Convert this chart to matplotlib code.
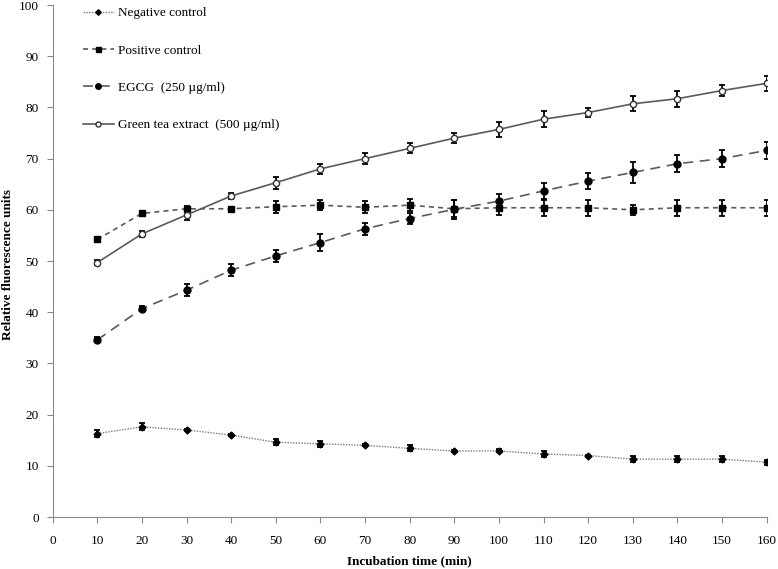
import numpy as np
import matplotlib
matplotlib.use("Agg")
import matplotlib.pyplot as plt
from matplotlib.lines import Line2D

plt.rcParams['font.family'] = ['Liberation Serif', 'DejaVu Serif']

time = [10, 20, 30, 40, 50, 60, 70, 80, 90, 100, 110, 120, 130, 140, 150, 160]

neg = [16.3, 17.6, 17.0, 16.0, 14.6, 14.3, 14.0, 13.4, 12.9, 12.9, 12.3, 12.0, 11.3, 11.3, 11.3, 10.7]
neg_err = [0.6, 0.7, 0.2, 0.2, 0.6, 0.6, 0.2, 0.6, 0.2, 0.3, 0.6, 0.2, 0.6, 0.6, 0.6, 0.5]

pos = [54.2, 59.3, 60.2, 60.2, 60.6, 60.9, 60.5, 60.9, 60.2, 60.4, 60.4, 60.4, 60.0, 60.4, 60.4, 60.4]
pos_err = [0.5, 0.5, 0.5, 0.3, 1.2, 1.0, 1.2, 1.2, 1.7, 1.5, 1.6, 1.6, 1.0, 1.6, 1.6, 1.6]

egcg = [34.6, 40.7, 44.3, 48.2, 51.0, 53.6, 56.3, 58.3, 60.1, 61.7, 63.7, 65.6, 67.3, 69.0, 70.0, 71.6]
egcg_err = [0.5, 0.5, 1.2, 1.2, 1.1, 1.6, 1.2, 1.1, 1.8, 1.4, 1.6, 1.6, 2.1, 1.7, 1.7, 1.6]

gte = [49.7, 55.3, 59.0, 62.7, 65.3, 68.0, 70.0, 72.0, 74.0, 75.7, 77.7, 79.0, 80.7, 81.7, 83.3, 84.7]
gte_err = [0.5, 0.6, 1.0, 0.5, 1.2, 1.0, 1.0, 1.0, 1.0, 1.4, 1.6, 0.9, 1.5, 1.6, 1.1, 1.5]

labels = ['Negative control', 'Positive control', 'EGCG  (250 µg/ml)',
          'Green tea extract  (500 µg/ml)']

fig = plt.figure(figsize=(7.78, 5.69), dpi=100)
ax = fig.add_axes([52.7/778, 52/569, (766.7-52.7)/778, (517-5)/569])

lc = '#5a5a5a'
ebkw = dict(ecolor='black', elinewidth=1.3, capsize=2.5, capthick=1.3)

styles = [
    dict(color='#7a7a7a', ls=(0, (1, 1)), lw=1.0, marker='D', ms=3.5, mfc='black', mec='black'),
    dict(color=lc, ls=(0, (3, 2.5)), lw=1.2, marker='s', ms=4.5, mfc='black', mec='black'),
    dict(color=lc, ls=(0, (6, 4)), lw=1.2, marker='o', ms=5, mfc='black', mec='black'),
    dict(color=lc, ls='-', lw=1.2, marker='o', ms=4.5, mfc='white', mec='#333333'),
]
series = [(neg, neg_err), (pos, pos_err), (egcg, egcg_err), (gte, gte_err)]

for (y, e), st in zip(series, styles):
    ax.errorbar(time, y, yerr=e, **st, **ebkw)

ax.set_xlim(0, 160)
ax.set_ylim(0, 100)
ax.set_xticks(np.arange(0, 161, 10))
ax.set_yticks(np.arange(0, 101, 10))
for s in ['top', 'right']:
    ax.spines[s].set_visible(False)
for s in ['left', 'bottom']:
    ax.spines[s].set_color('#888888')
ax.tick_params(axis='both', colors='#888888', labelcolor='black', labelsize=9.5, length=4)
ax.tick_params(axis='x', pad=9)
ax.tick_params(axis='y', pad=6)

ax.set_xlabel('Incubation time (min)', fontweight='bold', fontsize=9.5)
ax.xaxis.set_label_coords(0.5, (517 - 555) / 512)
ax.set_ylabel('Relative fluorescence units', fontweight='bold', fontsize=9.5)
ax.yaxis.set_label_coords((13.5 - 52.7) / 714, (517 - 265) / 512)

handles = []
for st in styles:
    h = dict(st)
    h['ms'] = h['ms'] * 0.8
    handles.append(Line2D([], [], **h))
ax.legend(handles, labels, loc='upper left', bbox_to_anchor=(74/778, 1 + 2/569),
          bbox_transform=fig.transFigure, frameon=False, fontsize=9.5,
          handlelength=2.3, labelspacing=1.9, handletextpad=0.3, borderpad=0.2)

fig.savefig('out.png', dpi=100)
